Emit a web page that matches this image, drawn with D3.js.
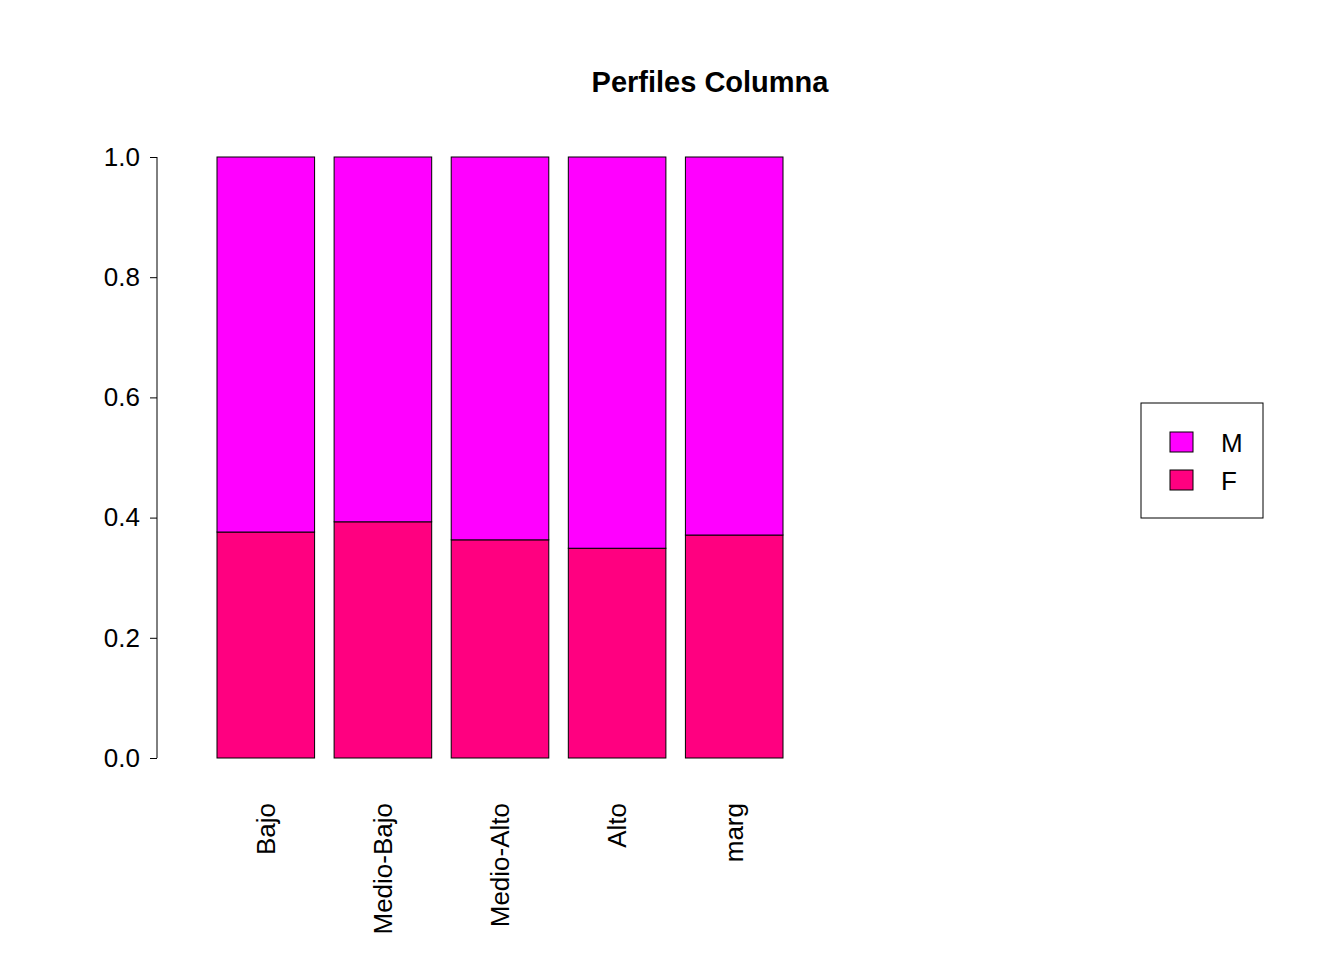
<!DOCTYPE html>
<html><head><meta charset="utf-8">
<script src="https://cdn.jsdelivr.net/npm/d3@7"></script>
<style>body{margin:0;background:#fff}text{font-family:"Liberation Sans",Arial,sans-serif}</style>
</head><body><svg id="c" width="1344" height="960"></svg>
<script>
const categories = ["Bajo","Medio-Bajo","Medio-Alto","Alto","marg"];
const valuesF = [0.376,0.393,0.363,0.349,0.371];
const valuesM = valuesF.map(v => 1 - v);
const yTicks = [0,0.2,0.4,0.6,0.8,1.0];
const legendLabels = ["M","F"];
const colors = {M:"#FF00FF", F:"#FF0080"};

const svg = d3.select("#c");
const x = d3.scaleBand().domain(categories).range([217,783]).paddingInner(1/6).paddingOuter(0);
const y = d3.scaleLinear().domain([0,1]).range([758,157]);

svg.append("text").attr("x",710).attr("y",92).attr("text-anchor","middle")
  .attr("font-size",29).attr("font-weight","bold").text("Perfiles Columna");

categories.forEach((c,i)=>{
  svg.append("rect").attr("x",x(c)).attr("width",x.bandwidth())
    .attr("y",y(valuesF[i])).attr("height",y(0)-y(valuesF[i]))
    .attr("fill",colors.F).attr("stroke","#000").attr("stroke-width",1);
  svg.append("rect").attr("x",x(c)).attr("width",x.bandwidth())
    .attr("y",y(1)).attr("height",y(valuesF[i])-y(1))
    .attr("fill",colors.M).attr("stroke","#000").attr("stroke-width",1);
  svg.append("text").attr("transform",`translate(${x(c)+x.bandwidth()/2+9},803) rotate(-90)`)
    .attr("text-anchor","end").attr("font-size",26).text(c);
});

const ax = svg.append("g").attr("transform","translate(157,0)")
  .call(d3.axisLeft(y).tickValues(yTicks).tickFormat(d3.format(".1f")).tickSize(7).tickPadding(10));
ax.select(".domain").attr("d","M0,157V758");
ax.selectAll("text").attr("font-size",26).attr("font-family","Liberation Sans, Arial, sans-serif").attr("fill","#000");
ax.selectAll("line,path").attr("stroke","#000");

svg.append("rect").attr("x",1141).attr("y",403).attr("width",122).attr("height",115)
  .attr("fill","none").attr("stroke","#000");
legendLabels.forEach((l,i)=>{
  svg.append("rect").attr("x",1170).attr("y",432+i*38).attr("width",23).attr("height",20)
    .attr("fill",colors[l]).attr("stroke","#000");
  svg.append("text").attr("x",1221).attr("y",452+i*38).attr("font-size",26).text(l);
});
</script></body></html>
